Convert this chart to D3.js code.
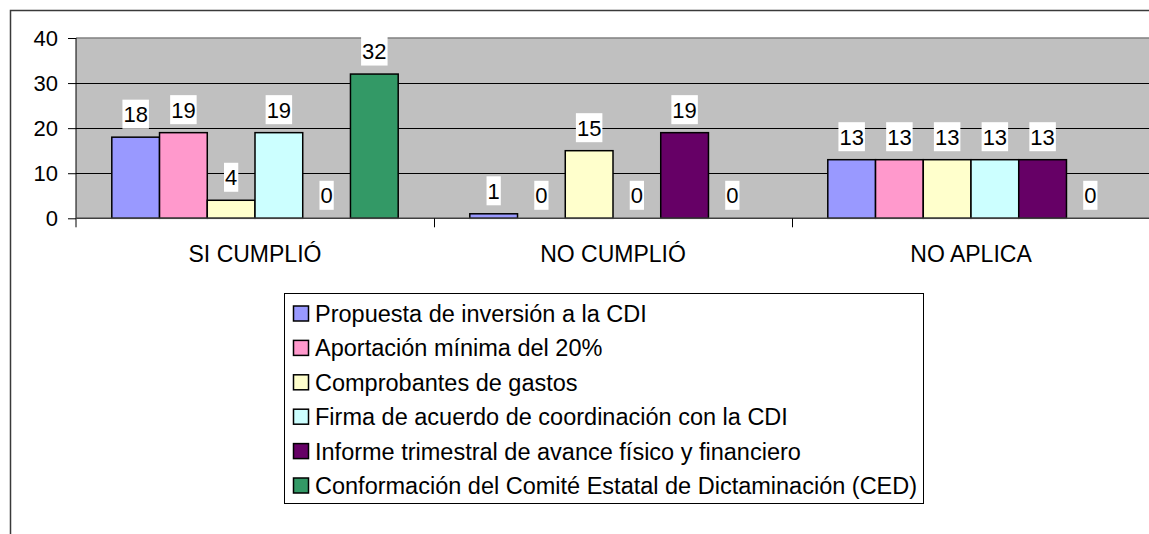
<!DOCTYPE html>
<html>
<head>
<meta charset="utf-8">
<script src="https://cdn.jsdelivr.net/npm/d3@7"></script>
<style>
  html, body { margin: 0; padding: 0; background: #fff; }
  svg { display: block; font-family: "Liberation Sans", Arial, sans-serif; }
</style>
</head>
<body>
<div id="chart"></div>
<script>
// data
const categories = ['SI CUMPLIÓ', 'NO CUMPLIÓ', 'NO APLICA'];
const seriesNames = [
  'Propuesta de inversión a la CDI',
  'Aportación mínima del 20%',
  'Comprobantes de gastos',
  'Firma de acuerdo de coordinación con la CDI',
  'Informe trimestral de avance físico y financiero',
  'Conformación del Comité Estatal de Dictaminación (CED)'
];
const propuesta = [18, 1, 13];
const aportacion = [19, 0, 13];
const comprobantes = [4, 15, 13];
const firma = [19, 0, 13];
const informe = [0, 19, 13];
const conformacion = [32, 0, 0];
const yTicks = [0, 10, 20, 30, 40];

const seriesValues = [propuesta, aportacion, comprobantes, firma, informe, conformacion];
const colors = ['#9999ff', '#ff99cc', '#ffffcc', '#ccffff', '#660066', '#339966'];

const FONT = '"Liberation Sans", Arial, sans-serif';
const W = 1149, H = 534;
const plot = { left: 76, right: 1150, top: 38, bottom: 218.3 };

const svg = d3.select('#chart').append('svg')
  .attr('width', W).attr('height', H)
  .attr('font-family', FONT);

svg.append('rect').attr('width', W).attr('height', H).attr('fill', '#fff');

// outer chart frame (only top and left visible)
svg.append('path')
  .attr('d', `M10.5,${H} V10.5 H${W}`)
  .attr('fill', 'none')
  .attr('stroke', '#3a3a3a')
  .attr('stroke-width', 1.5);

const x0 = d3.scaleBand().domain(categories).range([plot.left, plot.right]);
const x1 = d3.scaleBand().domain(d3.range(seriesNames.length))
  .range([0, x0.bandwidth()]).paddingInner(0).paddingOuter(0.75);
const y = d3.scaleLinear().domain([0, 40]).range([plot.bottom, plot.top]);

// plot background
svg.append('rect')
  .attr('x', plot.left).attr('y', plot.top)
  .attr('width', plot.right - plot.left).attr('height', plot.bottom - plot.top)
  .attr('fill', '#c0c0c0');

// gridlines
svg.append('g')
  .selectAll('line')
  .data(yTicks.filter(d => d > 0 && d < 40))
  .join('line')
  .attr('x1', plot.left).attr('x2', plot.right)
  .attr('y1', d => Math.round(y(d)) + 0.5).attr('y2', d => Math.round(y(d)) + 0.5)
  .attr('stroke', '#000').attr('stroke-width', 1);

svg.append('line')
  .attr('x1', plot.left).attr('x2', plot.right)
  .attr('y1', plot.top).attr('y2', plot.top)
  .attr('stroke', '#808080').attr('stroke-width', 1.5);

// bars
const groups = svg.append('g').selectAll('g')
  .data(categories)
  .join('g')
  .attr('transform', d => `translate(${x0(d)},0)`);

groups.each(function (cat, ci) {
  const g = d3.select(this);
  const rows = seriesValues.map((vals, si) => ({ si, v: vals[ci] }));

  g.selectAll('rect.bar')
    .data(rows.filter(r => r.v > 0))
    .join('rect')
    .attr('class', 'bar')
    .attr('x', r => x1(r.si))
    .attr('y', r => y(r.v))
    .attr('width', x1.bandwidth())
    .attr('height', r => y(0) - y(r.v))
    .attr('fill', r => colors[r.si])
    .attr('stroke', '#000')
    .attr('stroke-width', 1.5);

  // data labels with white boxes
  const lab = g.selectAll('g.lab')
    .data(rows)
    .join('g')
    .attr('class', 'lab')
    .attr('transform', r => `translate(${x1(r.si) + x1.bandwidth() / 2},${y(r.v) - 23})`);

  lab.append('text')
    .attr('text-anchor', 'middle')
    .attr('dy', '0.36em')
    .attr('font-size', 22)
    .attr('fill', '#000')
    .text(r => r.v);

  lab.each(function () {
    const t = d3.select(this).select('text');
    const b = t.node().getBBox();
    d3.select(this).insert('rect', 'text')
      .attr('x', b.x - 1).attr('y', -14.5)
      .attr('width', b.width + 2).attr('height', 29)
      .attr('fill', '#fff');
  });
});

// y axis
const yAxis = svg.append('g')
  .attr('transform', `translate(${plot.left},0)`)
  .call(d3.axisLeft(y).tickValues(yTicks).tickSize(8).tickPadding(10));
yAxis.select('.domain').remove();
yAxis.selectAll('line').attr('stroke', '#000');
yAxis.selectAll('text').attr('font-size', 22).attr('fill', '#000')
  .attr('font-family', FONT);
svg.append('line')
  .attr('x1', plot.left).attr('x2', plot.left)
  .attr('y1', plot.top).attr('y2', plot.bottom + 9)
  .attr('stroke', '#000').attr('stroke-width', 1);

// x axis
svg.append('line')
  .attr('x1', plot.left).attr('x2', plot.right)
  .attr('y1', plot.bottom).attr('y2', plot.bottom)
  .attr('stroke', '#404040').attr('stroke-width', 1.5);

svg.append('g').selectAll('line')
  .data(categories.slice(1))
  .join('line')
  .attr('x1', d => Math.round(x0(d)) + 0.5).attr('x2', d => Math.round(x0(d)) + 0.5)
  .attr('y1', plot.bottom).attr('y2', plot.bottom + 9)
  .attr('stroke', '#000');

svg.append('g').selectAll('text')
  .data(categories)
  .join('text')
  .attr('x', d => x0(d) + x0.bandwidth() / 2)
  .attr('y', 262)
  .attr('text-anchor', 'middle')
  .attr('font-size', 23)
  .attr('fill', '#000')
  .text(d => d);

// legend
const legend = { x: 284, y: 293, w: 639, h: 210, rowY: 313.5, rowH: 34.4 };
svg.append('rect')
  .attr('x', legend.x + 0.5).attr('y', legend.y + 0.5)
  .attr('width', legend.w).attr('height', legend.h)
  .attr('fill', '#fff').attr('stroke', '#000').attr('stroke-width', 1);

const items = svg.append('g').selectAll('g')
  .data(seriesNames)
  .join('g')
  .attr('transform', (d, i) => `translate(${legend.x + 9},${legend.rowY + i * legend.rowH})`);

items.append('rect')
  .attr('x', 0.5).attr('y', -7.5)
  .attr('width', 15).attr('height', 15)
  .attr('fill', (d, i) => colors[i])
  .attr('stroke', '#000').attr('stroke-width', 1.5);

items.append('text')
  .attr('x', 22)
  .attr('dy', '0.36em')
  .attr('font-size', 23.5)
  .attr('fill', '#000')
  .text(d => d);
</script>
</body>
</html>
